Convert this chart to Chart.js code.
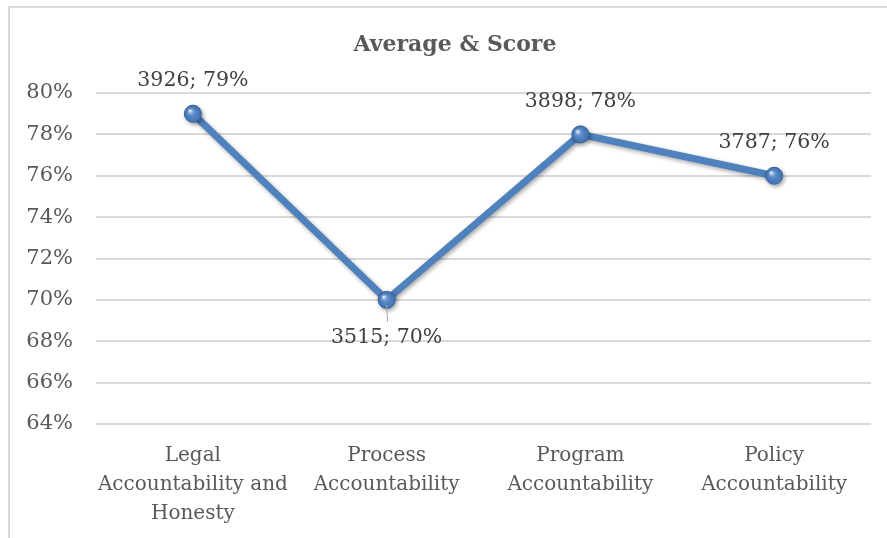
<!DOCTYPE html>
<html>
<head>
<meta charset="utf-8">
<script src="https://cdn.jsdelivr.net/npm/chart.js@4"></script>
<style>
  html, body { margin: 0; padding: 0; background: #fff; overflow: hidden; }
  #frame { position: absolute; left: 8px; top: 6px; width: 900px; height: 560px;
           border-left: 2px solid #d9d9d9; border-top: 2px solid #d9d9d9; }
  #wrap { position: absolute; left: 0; top: 0; width: 887px; height: 538px; }
</style>
</head>
<body>
<div id="frame"></div>
<div id="wrap"><canvas id="chart" width="887" height="538"></canvas></div>
<script>
// Values
const title = "Average & Score"
const categories = [
  ["Legal", "Accountability and", "Honesty"],
  ["Process", "Accountability"],
  ["Program", "Accountability"],
  ["Policy", "Accountability"]
]
const scores = [79, 70, 78, 76]
const counts = [3926, 3515, 3898, 3787]
const labelBelow = [false, true, false, false]

const FONT = "'DejaVu Serif', 'Liberation Serif', serif"
const LINE = "#4F81BD"

// title is centred on the whole frame, not on the plot
const titlePlugin = {
  id: "frameTitle",
  afterDraw(chart) {
    const ctx = chart.ctx
    ctx.save()
    ctx.fillStyle = "#595959"
    ctx.font = "bold 22px " + FONT
    ctx.textAlign = "center"
    ctx.textBaseline = "middle"
    ctx.fillText(title, 455, 45)
    ctx.restore()
  }
}

// shadow under the line, like the office chart
const shadowPlugin = {
  id: "lineShadow",
  beforeDatasetsDraw(chart) {
    const ctx = chart.ctx
    ctx.save()
    ctx.shadowColor = "rgba(0,0,0,0.35)"
    ctx.shadowBlur = 4
    ctx.shadowOffsetX = 1.5
    ctx.shadowOffsetY = 2
  },
  afterDatasetsDraw(chart) {
    chart.ctx.restore()
  }
}

// glossy highlight on markers + "count; score" labels
const labelPlugin = {
  id: "pointLabels",
  afterDatasetsDraw(chart) {
    const ctx = chart.ctx
    const meta = chart.getDatasetMeta(0)
    ctx.save()
    meta.data.forEach((pt, i) => {
      const g = ctx.createRadialGradient(pt.x - 3, pt.y - 3, 0.5, pt.x, pt.y, 9)
      g.addColorStop(0, "rgba(255,255,255,0.85)")
      g.addColorStop(0.35, "rgba(140,180,230,0.35)")
      g.addColorStop(1, "rgba(30,70,130,0.0)")
      ctx.fillStyle = g
      ctx.beginPath()
      ctx.arc(pt.x, pt.y, 8, 0, Math.PI * 2)
      ctx.fill()

      const below = labelBelow[i]
      const ty = below ? pt.y + 38 : pt.y - 33
      if (below) {
        ctx.strokeStyle = "#a6a6a6"
        ctx.lineWidth = 1
        ctx.beginPath()
        ctx.moveTo(pt.x, pt.y + 5)
        ctx.lineTo(pt.x + 1, pt.y + 22)
        ctx.stroke()
      }
      ctx.fillStyle = "#404040"
      ctx.font = "20.5px " + FONT
      ctx.textAlign = "center"
      ctx.textBaseline = "middle"
      ctx.fillText(counts[i] + "; " + scores[i] + "%", pt.x, ty)
    })
    ctx.restore()
  }
}

new Chart(document.getElementById("chart"), {
  type: "line",
  data: {
    labels: categories,
    datasets: [{
      data: scores,
      borderColor: LINE,
      borderWidth: 7,
      tension: 0,
      pointRadius: 8.5,
      pointHoverRadius: 8.5,
      pointBackgroundColor: "#4A7EC0",
      pointBorderColor: "#2F5F9A",
      pointBorderWidth: 1
    }]
  },
  options: {
    responsive: false,
    animation: false,
    events: [],
    layout: { padding: { left: 0, right: 16, top: 93, bottom: 0 } },
    plugins: {
      legend: { display: false },
      tooltip: { enabled: false },
      title: { display: false }
    },
    scales: {
      x: {
        offset: true,
        grid: { display: false, drawTicks: false },
        border: { display: false },
        ticks: {
          color: "#595959",
          padding: 17,
          maxRotation: 0,
          autoSkip: false,
          font: { family: FONT, size: 20, lineHeight: 1.45 }
        },
        afterFit(scale) { scale.height = 114 }
      },
      y: {
        min: 64,
        max: 80,
        grid: { color: "#d9d9d9", lineWidth: 2, drawTicks: false },
        border: { display: false },
        ticks: {
          stepSize: 2,
          color: "#595959",
          padding: 23,
          font: { family: FONT, size: 21 },
          callback: v => v + "%"
        },
        afterFit(scale) { scale.width = 96 }
      }
    }
  },
  plugins: [shadowPlugin, labelPlugin, titlePlugin]
})
</script>
</body>
</html>
